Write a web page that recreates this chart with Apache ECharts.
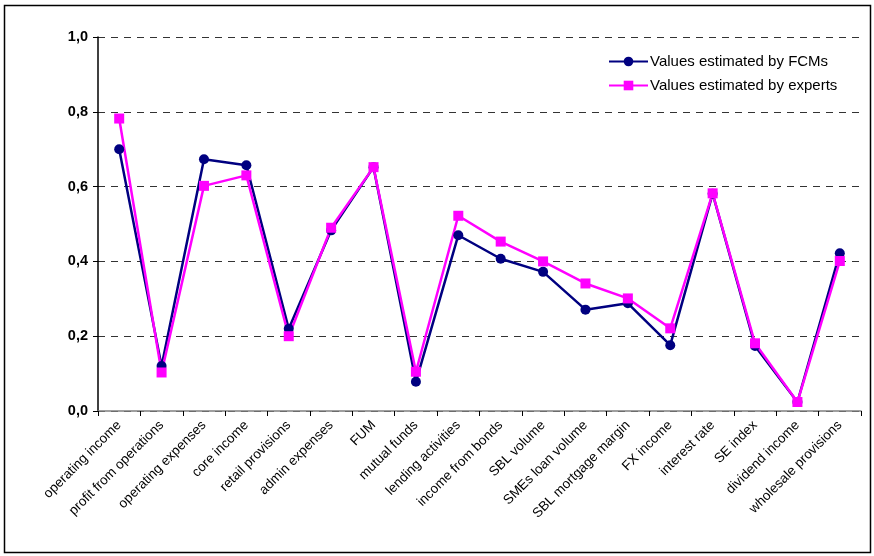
<!DOCTYPE html>
<html><head><meta charset="utf-8">
<script src="https://cdn.jsdelivr.net/npm/echarts@6/dist/echarts.min.js"></script>
<style>html,body{margin:0;padding:0;background:#fff}#c{width:874px;height:556px}</style>
</head><body><div id="c"></div>
<script>
var categories = ["operating income","profit from operations","operating expenses","core income","retail provisions","admin expenses","FUM","mutual funds","lending activities","income from bonds","SBL volume","SMEs loan volume","SBL mortgage margin","FX income","interest rate","SE index","dividend income","wholesale provisions"];
var fcmValues = [0.70,0.12,0.673,0.657,0.22,0.483,0.652,0.078,0.47,0.407,0.372,0.271,0.288,0.176,0.581,0.174,0.024,0.422];
var expertValues = [0.782,0.103,0.602,0.63,0.20,0.49,0.652,0.105,0.522,0.453,0.40,0.341,0.301,0.221,0.582,0.181,0.024,0.401];
var yTicks = [0,0.2,0.4,0.6,0.8,1.0];

var chart = echarts.init(document.getElementById('c'), null, {renderer:'canvas'});
var font = 'Liberation Sans, Arial, sans-serif';
chart.setOption({
  animation:false,
  backgroundColor:'#fff',
  graphic:[{type:'rect',shape:{x:4.5,y:5.5,width:866,height:547},style:{fill:'none',stroke:'#000',lineWidth:1.5},z:-1}],
  grid:{left:98,top:37,right:13,bottom:145,containLabel:false},
  legend:{
    top:49,left:603,orient:'vertical',itemGap:9,itemWidth:39,itemHeight:12,
    textStyle:{fontFamily:font,fontSize:15,color:'#000',padding:[0,0,0,-3]},
    data:['Values estimated by FCMs','Values estimated by experts']
  },
  xAxis:{
    type:'category',data:categories,boundaryGap:true,
    axisLine:{lineStyle:{color:'#808080',width:1.5}},
    axisTick:{show:true,inside:false,length:5,lineStyle:{color:'#000'}},
    axisLabel:{rotate:45,interval:0,fontFamily:font,fontSize:13.5,color:'#000',margin:12}
  },
  yAxis:{
    type:'value',min:0,max:1,interval:0.2,
    axisLine:{show:true,lineStyle:{color:'#000',width:1.5}},
    axisTick:{show:true,length:5,lineStyle:{color:'#000'}},
    axisLabel:{fontFamily:font,fontSize:14.5,fontWeight:'bold',color:'#000',margin:10,
      formatter:function(v){return v.toFixed(1).replace('.',',');}},
    splitLine:{show:true,lineStyle:{color:'#333',type:[7,6],width:1}}
  },
  series:[
    {name:'Values estimated by FCMs',type:'line',data:fcmValues,symbol:'circle',symbolSize:10,
     itemStyle:{color:'#000080'},lineStyle:{color:'#000080',width:2.5}},
    {name:'Values estimated by experts',type:'line',data:expertValues,symbol:'rect',symbolSize:10,
     itemStyle:{color:'#FF00FF'},lineStyle:{color:'#FF00FF',width:2.5}}
  ]
});
</script></body></html>
